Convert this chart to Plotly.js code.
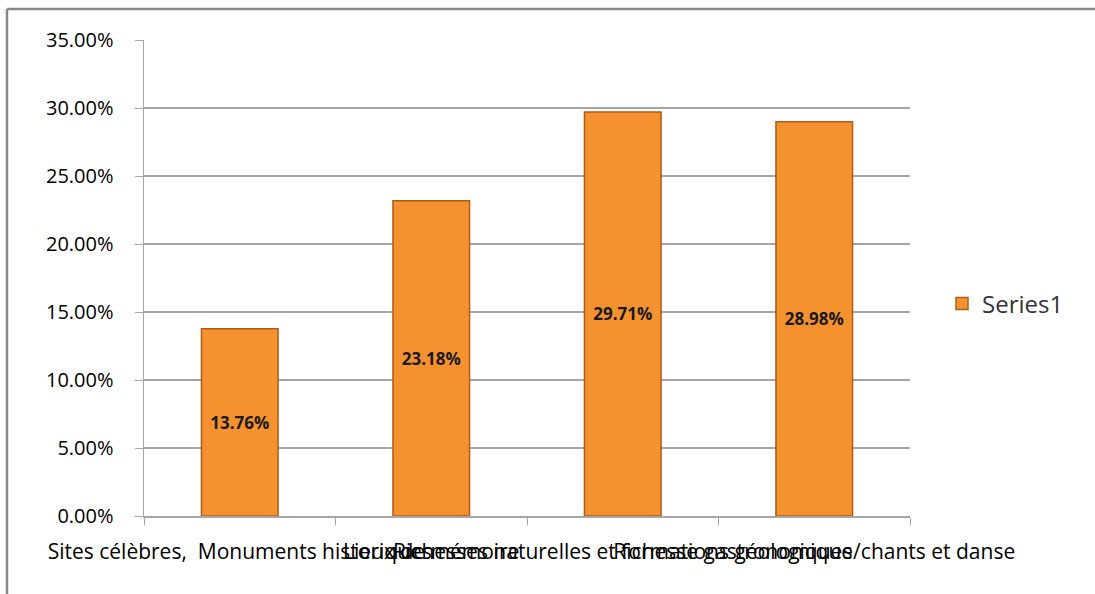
<!DOCTYPE html>
<html>
<head>
<meta charset="utf-8">
<script src="https://cdn.plot.ly/plotly-3.0.1.min.js"></script>
<style>
html,body{margin:0;padding:0;background:#fff;}
#chart{width:1095px;height:594px;}
</style>
</head>
<body>
<div id="chart"></div>
<script>
const categories = [
  "Sites célèbres,  Monuments historiques",
  "Lieux de mémoire",
  "Richesses naturelles et formations géologiques",
  "Richesse gastronomique/chants et danse"
];
const values = [0.1376, 0.2318, 0.2971, 0.2898];
const labels = ["13.76%", "23.18%", "29.71%", "28.98%"];
const seriesName = "Series1";

const W = 1095, H = 594;
const L = 144, R = 910, T = 40, B = 516;
const pw = R - L, ph = B - T;
const px = x => (x - L) / pw;
const py = y => (B - y) / ph;
const FONT = "Open Sans, Liberation Sans, sans-serif";

const trace = {
  type: "bar",
  x: categories,
  y: values,
  name: seriesName,
  text: labels,
  textposition: "inside",
  insidetextanchor: "middle",
  textangle: 0,
  textfont: {family: FONT, size: 17, color: "#1a1a1a", weight: "bold"},
  marker: {color: "#F5922F", line: {color: "#B05C18", width: 1.5}},
  width: 0.4,
  hoverinfo: "none",
  showlegend: true
};

const layout = {
  width: W, height: H,
  margin: {l: L, r: W - R, t: T, b: H - B, pad: 0},
  paper_bgcolor: "#ffffff",
  plot_bgcolor: "#ffffff",
  font: {family: FONT, color: "#000"},
  xaxis: {
    type: "category",
    tickangle: 0,
    showline: true, linecolor: "#A6A6A6", linewidth: 1.5,
    ticks: "outside", tickson: "boundaries", ticklen: 7, tickcolor: "#A6A6A6",
    showgrid: false, zeroline: false,
    tickfont: {family: FONT, size: 21, color: "#000"},
    ticklabelstandoff: 16,
    automargin: false
  },
  yaxis: {
    range: [0, 0.35],
    dtick: 0.05,
    tickformat: ".2%",
    showline: true, linecolor: "#A6A6A6", linewidth: 1.5,
    ticks: "outside", ticklen: 8, tickcolor: "#A6A6A6",
    showgrid: true, gridcolor: "#A6A6A6", gridwidth: 1.2,
    zeroline: false,
    tickfont: {family: FONT, size: 20, color: "#000"},
    ticklabelstandoff: 17,
    automargin: false
  },
  showlegend: true,
  legend: {
    x: px(942), y: py(304), xanchor: "left", yanchor: "middle",
    font: {family: FONT, size: 24, color: "#333"},
    bgcolor: "rgba(0,0,0,0)",
    itemwidth: 30
  },
  shapes: [
    {type: "line", xref: "paper", yref: "paper", x0: px(7), x1: px(1100), y0: py(9), y1: py(9), line: {color: "#888888", width: 2.5}},
    {type: "line", xref: "paper", yref: "paper", x0: px(7), x1: px(7), y0: py(9), y1: py(600), line: {color: "#888888", width: 2.5}}
  ]
};

Plotly.newPlot("chart", [trace], layout, {staticPlot: true, displayModeBar: false});
</script>
</body>
</html>
